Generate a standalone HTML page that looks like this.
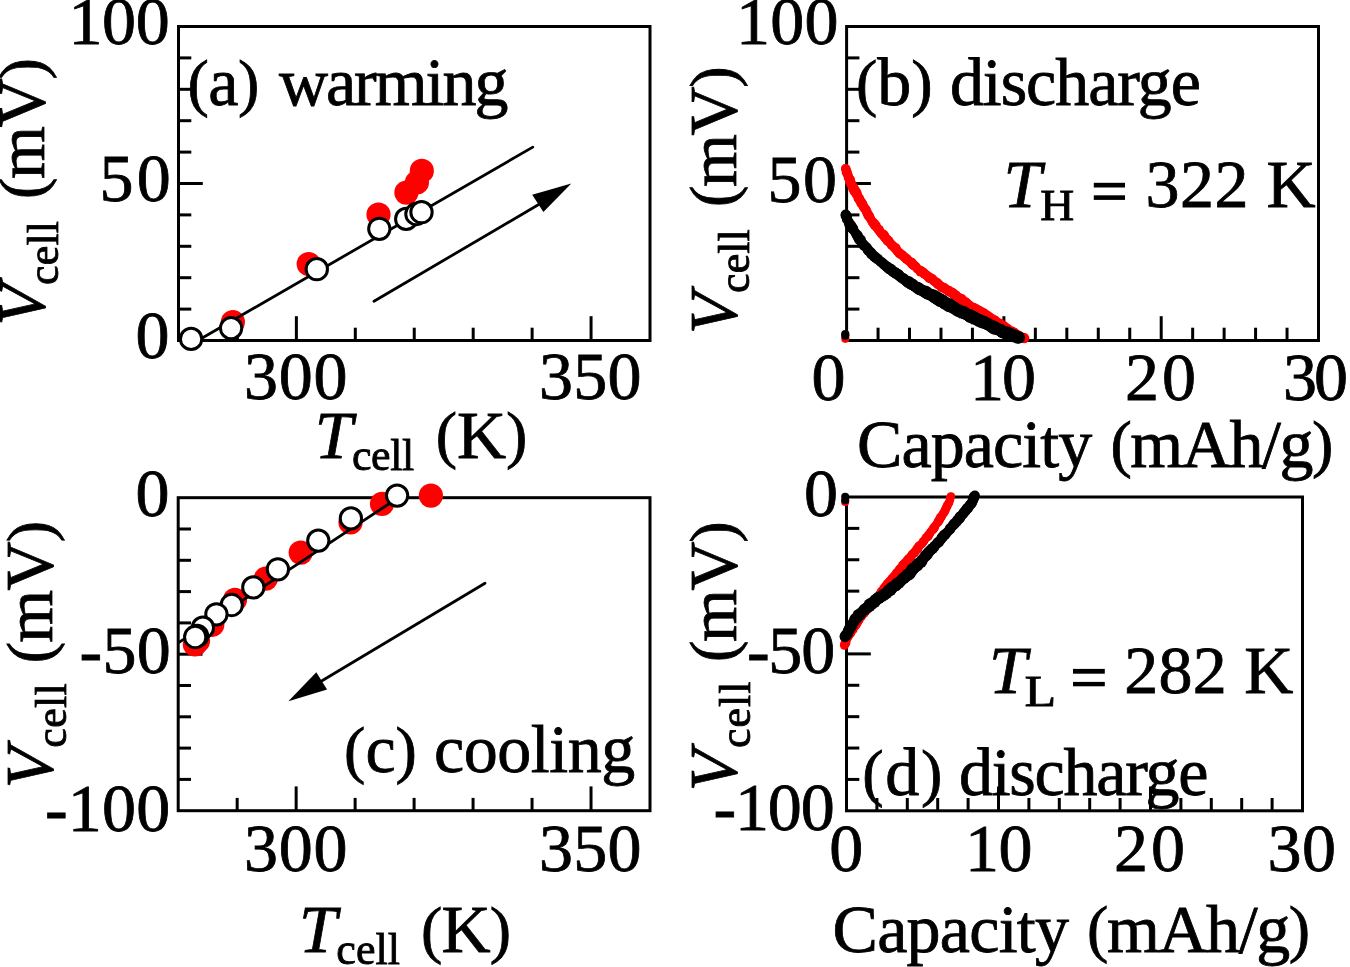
<!DOCTYPE html>
<html><head><meta charset="utf-8"><style>
html,body{margin:0;padding:0;background:#fff;width:1350px;height:967px;overflow:hidden}
svg{display:block;will-change:transform;font-family:"Liberation Serif",serif;font-size:68px}
text{stroke:#000;stroke-width:0.8px}
</style></head><body>
<svg width="1350" height="967" viewBox="0 0 1350 967" fill="#000">
<line x1="178.5" y1="57.90" x2="191.30" y2="57.90" stroke="#000" stroke-width="3"/>
<line x1="178.5" y1="89.30" x2="191.30" y2="89.30" stroke="#000" stroke-width="3"/>
<line x1="178.5" y1="120.70" x2="191.30" y2="120.70" stroke="#000" stroke-width="3"/>
<line x1="178.5" y1="152.10" x2="191.30" y2="152.10" stroke="#000" stroke-width="3"/>
<line x1="178.5" y1="183.50" x2="202.80" y2="183.50" stroke="#000" stroke-width="3"/>
<line x1="178.5" y1="214.90" x2="191.30" y2="214.90" stroke="#000" stroke-width="3"/>
<line x1="178.5" y1="246.30" x2="191.30" y2="246.30" stroke="#000" stroke-width="3"/>
<line x1="178.5" y1="277.70" x2="191.30" y2="277.70" stroke="#000" stroke-width="3"/>
<line x1="178.5" y1="309.10" x2="191.30" y2="309.10" stroke="#000" stroke-width="3"/>
<line x1="237.44" y1="340.5" x2="237.44" y2="327.70" stroke="#000" stroke-width="3"/>
<line x1="296.38" y1="340.5" x2="296.38" y2="316.20" stroke="#000" stroke-width="3"/>
<line x1="355.31" y1="340.5" x2="355.31" y2="327.70" stroke="#000" stroke-width="3"/>
<line x1="414.25" y1="340.5" x2="414.25" y2="327.70" stroke="#000" stroke-width="3"/>
<line x1="473.19" y1="340.5" x2="473.19" y2="327.70" stroke="#000" stroke-width="3"/>
<line x1="532.12" y1="340.5" x2="532.12" y2="327.70" stroke="#000" stroke-width="3"/>
<line x1="591.06" y1="340.5" x2="591.06" y2="316.20" stroke="#000" stroke-width="3"/>
<rect x="178.5" y="26.5" width="471.5" height="314.0" fill="none" stroke="#000" stroke-width="3"/>
<line x1="846.6" y1="57.90" x2="859.40" y2="57.90" stroke="#000" stroke-width="3"/>
<line x1="846.6" y1="89.30" x2="859.40" y2="89.30" stroke="#000" stroke-width="3"/>
<line x1="846.6" y1="120.70" x2="859.40" y2="120.70" stroke="#000" stroke-width="3"/>
<line x1="846.6" y1="152.10" x2="859.40" y2="152.10" stroke="#000" stroke-width="3"/>
<line x1="846.6" y1="183.50" x2="870.90" y2="183.50" stroke="#000" stroke-width="3"/>
<line x1="846.6" y1="214.90" x2="859.40" y2="214.90" stroke="#000" stroke-width="3"/>
<line x1="846.6" y1="246.30" x2="859.40" y2="246.30" stroke="#000" stroke-width="3"/>
<line x1="846.6" y1="277.70" x2="859.40" y2="277.70" stroke="#000" stroke-width="3"/>
<line x1="846.6" y1="309.10" x2="859.40" y2="309.10" stroke="#000" stroke-width="3"/>
<line x1="878.06" y1="340.5" x2="878.06" y2="327.70" stroke="#000" stroke-width="3"/>
<line x1="909.52" y1="340.5" x2="909.52" y2="327.70" stroke="#000" stroke-width="3"/>
<line x1="940.98" y1="340.5" x2="940.98" y2="327.70" stroke="#000" stroke-width="3"/>
<line x1="972.44" y1="340.5" x2="972.44" y2="327.70" stroke="#000" stroke-width="3"/>
<line x1="1003.90" y1="340.5" x2="1003.90" y2="316.20" stroke="#000" stroke-width="3"/>
<line x1="1035.36" y1="340.5" x2="1035.36" y2="327.70" stroke="#000" stroke-width="3"/>
<line x1="1066.82" y1="340.5" x2="1066.82" y2="327.70" stroke="#000" stroke-width="3"/>
<line x1="1098.28" y1="340.5" x2="1098.28" y2="327.70" stroke="#000" stroke-width="3"/>
<line x1="1129.74" y1="340.5" x2="1129.74" y2="327.70" stroke="#000" stroke-width="3"/>
<line x1="1161.20" y1="340.5" x2="1161.20" y2="316.20" stroke="#000" stroke-width="3"/>
<line x1="1192.66" y1="340.5" x2="1192.66" y2="327.70" stroke="#000" stroke-width="3"/>
<line x1="1224.12" y1="340.5" x2="1224.12" y2="327.70" stroke="#000" stroke-width="3"/>
<line x1="1255.58" y1="340.5" x2="1255.58" y2="327.70" stroke="#000" stroke-width="3"/>
<line x1="1287.04" y1="340.5" x2="1287.04" y2="327.70" stroke="#000" stroke-width="3"/>
<rect x="846.6" y="26.5" width="471.9" height="314.0" fill="none" stroke="#000" stroke-width="3"/>
<line x1="178.2" y1="529.00" x2="191.00" y2="529.00" stroke="#000" stroke-width="3"/>
<line x1="178.2" y1="560.30" x2="191.00" y2="560.30" stroke="#000" stroke-width="3"/>
<line x1="178.2" y1="591.60" x2="191.00" y2="591.60" stroke="#000" stroke-width="3"/>
<line x1="178.2" y1="622.90" x2="191.00" y2="622.90" stroke="#000" stroke-width="3"/>
<line x1="178.2" y1="654.20" x2="202.50" y2="654.20" stroke="#000" stroke-width="3"/>
<line x1="178.2" y1="685.50" x2="191.00" y2="685.50" stroke="#000" stroke-width="3"/>
<line x1="178.2" y1="716.80" x2="191.00" y2="716.80" stroke="#000" stroke-width="3"/>
<line x1="178.2" y1="748.10" x2="191.00" y2="748.10" stroke="#000" stroke-width="3"/>
<line x1="178.2" y1="779.40" x2="191.00" y2="779.40" stroke="#000" stroke-width="3"/>
<line x1="237.17" y1="810.7" x2="237.17" y2="797.90" stroke="#000" stroke-width="3"/>
<line x1="296.15" y1="810.7" x2="296.15" y2="786.40" stroke="#000" stroke-width="3"/>
<line x1="355.12" y1="810.7" x2="355.12" y2="797.90" stroke="#000" stroke-width="3"/>
<line x1="414.10" y1="810.7" x2="414.10" y2="797.90" stroke="#000" stroke-width="3"/>
<line x1="473.07" y1="810.7" x2="473.07" y2="797.90" stroke="#000" stroke-width="3"/>
<line x1="532.05" y1="810.7" x2="532.05" y2="797.90" stroke="#000" stroke-width="3"/>
<line x1="591.02" y1="810.7" x2="591.02" y2="786.40" stroke="#000" stroke-width="3"/>
<rect x="178.2" y="497.7" width="471.8" height="313.00000000000006" fill="none" stroke="#000" stroke-width="3"/>
<line x1="846.5" y1="528.38" x2="859.30" y2="528.38" stroke="#000" stroke-width="3"/>
<line x1="846.5" y1="559.76" x2="859.30" y2="559.76" stroke="#000" stroke-width="3"/>
<line x1="846.5" y1="591.14" x2="859.30" y2="591.14" stroke="#000" stroke-width="3"/>
<line x1="846.5" y1="622.52" x2="859.30" y2="622.52" stroke="#000" stroke-width="3"/>
<line x1="846.5" y1="653.90" x2="870.80" y2="653.90" stroke="#000" stroke-width="3"/>
<line x1="846.5" y1="685.28" x2="859.30" y2="685.28" stroke="#000" stroke-width="3"/>
<line x1="846.5" y1="716.66" x2="859.30" y2="716.66" stroke="#000" stroke-width="3"/>
<line x1="846.5" y1="748.04" x2="859.30" y2="748.04" stroke="#000" stroke-width="3"/>
<line x1="846.5" y1="779.42" x2="859.30" y2="779.42" stroke="#000" stroke-width="3"/>
<line x1="876.90" y1="810.8" x2="876.90" y2="798.00" stroke="#000" stroke-width="3"/>
<line x1="907.30" y1="810.8" x2="907.30" y2="798.00" stroke="#000" stroke-width="3"/>
<line x1="937.70" y1="810.8" x2="937.70" y2="798.00" stroke="#000" stroke-width="3"/>
<line x1="968.10" y1="810.8" x2="968.10" y2="798.00" stroke="#000" stroke-width="3"/>
<line x1="998.50" y1="810.8" x2="998.50" y2="786.50" stroke="#000" stroke-width="3"/>
<line x1="1028.90" y1="810.8" x2="1028.90" y2="798.00" stroke="#000" stroke-width="3"/>
<line x1="1059.30" y1="810.8" x2="1059.30" y2="798.00" stroke="#000" stroke-width="3"/>
<line x1="1089.70" y1="810.8" x2="1089.70" y2="798.00" stroke="#000" stroke-width="3"/>
<line x1="1120.10" y1="810.8" x2="1120.10" y2="798.00" stroke="#000" stroke-width="3"/>
<line x1="1150.50" y1="810.8" x2="1150.50" y2="786.50" stroke="#000" stroke-width="3"/>
<line x1="1180.90" y1="810.8" x2="1180.90" y2="798.00" stroke="#000" stroke-width="3"/>
<line x1="1211.30" y1="810.8" x2="1211.30" y2="798.00" stroke="#000" stroke-width="3"/>
<line x1="1241.70" y1="810.8" x2="1241.70" y2="798.00" stroke="#000" stroke-width="3"/>
<line x1="1272.10" y1="810.8" x2="1272.10" y2="798.00" stroke="#000" stroke-width="3"/>
<rect x="846.5" y="497" width="456.0" height="313.79999999999995" fill="none" stroke="#000" stroke-width="3"/>
<circle cx="232.9" cy="322.1" r="12.1" fill="#f00"/>
<circle cx="308.7" cy="264" r="12.1" fill="#f00"/>
<circle cx="378.5" cy="214.5" r="12.1" fill="#f00"/>
<circle cx="406.4" cy="192.6" r="12.1" fill="#f00"/>
<circle cx="416.9" cy="182.5" r="12.1" fill="#f00"/>
<circle cx="421.8" cy="170.9" r="12.1" fill="#f00"/>
<polyline points="191,344.5 532.8,147.1" fill="none" stroke="#000" stroke-width="2.8" stroke-linecap="round" stroke-linejoin="round"/>
<circle cx="191.1" cy="338.9" r="10.65" fill="#fff" stroke="#000" stroke-width="3.0"/>
<circle cx="231.1" cy="328.1" r="10.65" fill="#fff" stroke="#000" stroke-width="3.0"/>
<circle cx="316.8" cy="269.2" r="10.65" fill="#fff" stroke="#000" stroke-width="3.0"/>
<circle cx="379.3" cy="228.8" r="10.65" fill="#fff" stroke="#000" stroke-width="3.0"/>
<circle cx="406.2" cy="218.9" r="10.65" fill="#fff" stroke="#000" stroke-width="3.0"/>
<circle cx="416.4" cy="214" r="10.65" fill="#fff" stroke="#000" stroke-width="3.0"/>
<circle cx="421.5" cy="212.2" r="10.65" fill="#fff" stroke="#000" stroke-width="3.0"/>
<polyline points="374,301.3 538.7,204.5" fill="none" stroke="#000" stroke-width="2.8" stroke-linecap="round" stroke-linejoin="round"/>
<polygon points="571.3,183.6 532.2,194.8 543.4,211.9" fill="#000"/>
<circle cx="845.3" cy="338.8" r="4.1" fill="#f00"/>
<circle cx="845.3" cy="334" r="4.1" fill="#000"/><circle cx="845.3" cy="335.7" r="4.1" fill="#000"/>
<g fill="#f00"><circle cx="845.5" cy="168.6" r="4.51"/><circle cx="845.8" cy="169.0" r="4.84"/><circle cx="846.3" cy="170.0" r="4.31"/><circle cx="846.8" cy="171.2" r="4.51"/><circle cx="846.8" cy="172.5" r="5.05"/><circle cx="847.3" cy="173.9" r="4.44"/><circle cx="847.9" cy="175.0" r="4.77"/><circle cx="848.4" cy="176.2" r="4.36"/><circle cx="848.3" cy="177.7" r="4.57"/><circle cx="849.3" cy="178.8" r="4.73"/><circle cx="849.9" cy="179.4" r="4.94"/><circle cx="850.0" cy="181.0" r="5.02"/><circle cx="850.1" cy="181.5" r="5.09"/><circle cx="851.4" cy="182.9" r="4.50"/><circle cx="851.3" cy="184.2" r="4.86"/><circle cx="851.9" cy="185.4" r="4.65"/><circle cx="852.9" cy="186.7" r="4.83"/><circle cx="853.4" cy="188.2" r="5.14"/><circle cx="853.4" cy="189.2" r="4.90"/><circle cx="854.6" cy="190.0" r="5.17"/><circle cx="854.5" cy="191.3" r="4.94"/><circle cx="855.2" cy="191.7" r="4.82"/><circle cx="856.4" cy="192.7" r="5.07"/><circle cx="856.5" cy="193.9" r="5.02"/><circle cx="857.5" cy="195.6" r="4.56"/><circle cx="857.9" cy="195.9" r="4.34"/><circle cx="858.3" cy="197.7" r="4.95"/><circle cx="859.1" cy="198.8" r="5.18"/><circle cx="859.3" cy="199.5" r="4.58"/><circle cx="860.0" cy="200.4" r="4.33"/><circle cx="860.6" cy="201.1" r="4.85"/><circle cx="861.3" cy="203.0" r="5.08"/><circle cx="862.0" cy="203.6" r="5.11"/><circle cx="862.8" cy="204.8" r="4.77"/><circle cx="863.3" cy="206.2" r="4.80"/><circle cx="863.7" cy="207.0" r="4.76"/><circle cx="864.2" cy="208.3" r="4.51"/><circle cx="865.0" cy="208.5" r="4.77"/><circle cx="865.6" cy="209.6" r="4.67"/><circle cx="866.3" cy="210.6" r="4.85"/><circle cx="866.8" cy="212.3" r="4.86"/><circle cx="867.6" cy="213.4" r="4.62"/><circle cx="867.7" cy="214.4" r="4.32"/><circle cx="868.5" cy="215.3" r="5.17"/><circle cx="869.2" cy="216.3" r="4.83"/><circle cx="869.9" cy="217.5" r="4.58"/><circle cx="870.5" cy="218.8" r="4.57"/><circle cx="871.4" cy="219.8" r="4.32"/><circle cx="871.7" cy="220.9" r="4.58"/><circle cx="872.4" cy="221.6" r="4.51"/><circle cx="873.0" cy="222.5" r="4.93"/><circle cx="874.3" cy="223.6" r="4.60"/><circle cx="874.5" cy="224.6" r="5.07"/><circle cx="875.9" cy="225.8" r="4.89"/><circle cx="876.0" cy="226.9" r="4.50"/><circle cx="877.4" cy="228.2" r="4.47"/><circle cx="877.7" cy="229.1" r="4.47"/><circle cx="879.0" cy="229.7" r="4.88"/><circle cx="879.3" cy="231.1" r="4.42"/><circle cx="880.2" cy="231.7" r="4.54"/><circle cx="881.1" cy="233.2" r="4.68"/><circle cx="881.6" cy="234.2" r="4.44"/><circle cx="883.2" cy="234.7" r="5.09"/><circle cx="883.9" cy="235.4" r="5.16"/><circle cx="884.6" cy="236.7" r="4.97"/><circle cx="884.9" cy="237.3" r="4.77"/><circle cx="885.4" cy="238.5" r="4.50"/><circle cx="886.9" cy="238.9" r="4.56"/><circle cx="887.6" cy="240.6" r="5.11"/><circle cx="888.6" cy="241.2" r="5.11"/><circle cx="889.2" cy="241.8" r="4.31"/><circle cx="890.0" cy="243.0" r="4.57"/><circle cx="891.1" cy="244.0" r="4.67"/><circle cx="891.3" cy="245.1" r="4.61"/><circle cx="892.6" cy="245.5" r="4.73"/><circle cx="893.2" cy="246.8" r="4.48"/><circle cx="894.2" cy="247.7" r="4.45"/><circle cx="895.1" cy="247.8" r="5.03"/><circle cx="896.0" cy="248.7" r="4.87"/><circle cx="896.3" cy="250.0" r="4.54"/><circle cx="897.4" cy="251.1" r="4.68"/><circle cx="897.8" cy="251.3" r="4.30"/><circle cx="898.7" cy="252.9" r="4.41"/><circle cx="899.6" cy="253.3" r="5.07"/><circle cx="900.6" cy="254.0" r="4.58"/><circle cx="901.8" cy="254.8" r="4.88"/><circle cx="902.5" cy="255.4" r="4.47"/><circle cx="903.7" cy="256.5" r="4.80"/><circle cx="904.2" cy="257.2" r="4.37"/><circle cx="905.6" cy="258.0" r="4.84"/><circle cx="906.4" cy="258.8" r="5.02"/><circle cx="907.2" cy="259.8" r="4.64"/><circle cx="908.3" cy="260.4" r="4.68"/><circle cx="909.1" cy="261.3" r="4.52"/><circle cx="909.9" cy="261.9" r="4.36"/><circle cx="911.3" cy="262.6" r="5.09"/><circle cx="912.1" cy="263.3" r="5.11"/><circle cx="912.4" cy="264.6" r="4.72"/><circle cx="914.0" cy="265.4" r="4.90"/><circle cx="914.8" cy="266.0" r="4.90"/><circle cx="915.6" cy="266.3" r="4.39"/><circle cx="916.6" cy="267.1" r="4.43"/><circle cx="917.0" cy="268.7" r="4.38"/><circle cx="917.8" cy="269.4" r="4.46"/><circle cx="919.5" cy="270.1" r="4.41"/><circle cx="920.5" cy="270.7" r="5.05"/><circle cx="920.6" cy="271.6" r="5.02"/><circle cx="922.2" cy="271.8" r="4.76"/><circle cx="923.4" cy="272.6" r="4.97"/><circle cx="924.2" cy="274.0" r="4.59"/><circle cx="924.9" cy="274.2" r="4.52"/><circle cx="926.4" cy="275.1" r="4.85"/><circle cx="927.1" cy="275.7" r="4.63"/><circle cx="927.9" cy="276.6" r="4.68"/><circle cx="929.2" cy="277.5" r="5.18"/><circle cx="930.4" cy="278.2" r="4.44"/><circle cx="931.2" cy="278.7" r="4.91"/><circle cx="932.6" cy="279.2" r="4.88"/><circle cx="933.4" cy="280.6" r="4.39"/><circle cx="934.1" cy="281.2" r="4.77"/><circle cx="934.8" cy="281.4" r="4.47"/><circle cx="935.8" cy="282.2" r="4.83"/><circle cx="937.3" cy="283.0" r="4.92"/><circle cx="937.8" cy="284.3" r="4.93"/><circle cx="938.7" cy="284.5" r="4.83"/><circle cx="940.0" cy="285.4" r="4.32"/><circle cx="940.8" cy="286.0" r="4.46"/><circle cx="941.6" cy="287.2" r="5.00"/><circle cx="943.0" cy="287.3" r="4.73"/><circle cx="944.2" cy="288.0" r="5.05"/><circle cx="945.1" cy="288.9" r="4.73"/><circle cx="946.2" cy="289.6" r="4.66"/><circle cx="946.8" cy="289.7" r="4.72"/><circle cx="948.4" cy="291.0" r="4.95"/><circle cx="949.2" cy="291.1" r="5.07"/><circle cx="950.4" cy="292.3" r="4.53"/><circle cx="952.4" cy="292.8" r="5.07"/><circle cx="952.7" cy="293.5" r="5.08"/><circle cx="953.5" cy="293.9" r="4.96"/><circle cx="954.6" cy="294.8" r="5.05"/><circle cx="956.0" cy="295.2" r="4.82"/><circle cx="956.8" cy="296.4" r="4.60"/><circle cx="958.1" cy="297.5" r="4.49"/><circle cx="959.1" cy="297.6" r="4.65"/><circle cx="960.3" cy="298.3" r="4.55"/><circle cx="961.6" cy="299.1" r="5.10"/><circle cx="962.3" cy="300.5" r="5.15"/><circle cx="963.3" cy="301.2" r="4.98"/><circle cx="964.9" cy="301.6" r="4.89"/><circle cx="966.1" cy="302.7" r="4.98"/><circle cx="966.3" cy="303.2" r="4.78"/><circle cx="967.9" cy="304.1" r="4.62"/><circle cx="968.4" cy="304.7" r="4.81"/><circle cx="969.3" cy="305.6" r="4.87"/><circle cx="970.5" cy="306.4" r="4.89"/><circle cx="971.9" cy="306.9" r="4.43"/><circle cx="973.2" cy="307.5" r="4.84"/><circle cx="974.0" cy="307.7" r="4.71"/><circle cx="975.4" cy="308.8" r="4.36"/><circle cx="976.4" cy="309.0" r="4.79"/><circle cx="977.1" cy="310.0" r="4.54"/><circle cx="978.2" cy="310.1" r="4.34"/><circle cx="979.2" cy="310.7" r="4.99"/><circle cx="980.4" cy="311.8" r="4.66"/><circle cx="981.9" cy="311.9" r="4.62"/><circle cx="982.4" cy="312.7" r="4.54"/><circle cx="983.9" cy="313.3" r="5.00"/><circle cx="984.6" cy="314.4" r="4.47"/><circle cx="985.9" cy="314.9" r="5.03"/><circle cx="986.6" cy="315.2" r="4.43"/><circle cx="987.8" cy="315.9" r="4.77"/><circle cx="989.1" cy="316.5" r="4.53"/><circle cx="990.2" cy="318.0" r="5.02"/><circle cx="991.0" cy="318.4" r="4.64"/><circle cx="992.5" cy="319.2" r="4.87"/><circle cx="993.5" cy="319.7" r="4.57"/><circle cx="994.4" cy="320.0" r="4.84"/><circle cx="995.5" cy="321.2" r="4.99"/><circle cx="996.3" cy="321.6" r="4.77"/><circle cx="997.0" cy="322.6" r="4.78"/><circle cx="998.4" cy="323.3" r="4.88"/><circle cx="999.8" cy="323.6" r="5.16"/><circle cx="1000.5" cy="324.1" r="5.01"/><circle cx="1001.3" cy="324.8" r="4.62"/><circle cx="1003.1" cy="325.8" r="4.78"/><circle cx="1004.0" cy="326.3" r="5.08"/><circle cx="1005.0" cy="327.8" r="5.07"/><circle cx="1006.3" cy="327.9" r="4.94"/><circle cx="1007.5" cy="329.1" r="5.03"/><circle cx="1008.4" cy="329.4" r="4.69"/><circle cx="1008.8" cy="329.7" r="4.40"/><circle cx="1010.0" cy="330.7" r="4.48"/><circle cx="1011.3" cy="331.2" r="4.93"/><circle cx="1012.1" cy="331.8" r="4.88"/><circle cx="1013.1" cy="332.2" r="4.98"/><circle cx="1014.3" cy="332.9" r="5.11"/><circle cx="1015.0" cy="333.6" r="4.63"/><circle cx="1015.9" cy="334.0" r="4.50"/><circle cx="1017.3" cy="334.9" r="5.00"/><circle cx="1018.6" cy="335.4" r="4.48"/><circle cx="1019.8" cy="335.8" r="4.66"/><circle cx="1020.9" cy="336.8" r="4.40"/><circle cx="1021.8" cy="337.3" r="4.35"/><circle cx="1023.3" cy="337.4" r="4.67"/><circle cx="1023.8" cy="337.8" r="4.66"/><circle cx="1024.2" cy="338.1" r="5.17"/></g>
<g fill="#000"><circle cx="845.7" cy="214.6" r="5.11"/><circle cx="846.0" cy="215.4" r="5.40"/><circle cx="846.1" cy="216.4" r="4.58"/><circle cx="846.9" cy="216.8" r="5.13"/><circle cx="846.8" cy="218.4" r="4.97"/><circle cx="847.1" cy="219.5" r="5.07"/><circle cx="848.5" cy="221.3" r="4.80"/><circle cx="849.0" cy="222.1" r="4.69"/><circle cx="849.1" cy="223.3" r="5.11"/><circle cx="849.7" cy="224.4" r="5.33"/><circle cx="850.9" cy="225.5" r="5.43"/><circle cx="851.2" cy="226.8" r="5.42"/><circle cx="852.2" cy="227.9" r="4.73"/><circle cx="852.8" cy="228.5" r="5.42"/><circle cx="852.8" cy="229.4" r="4.88"/><circle cx="853.6" cy="230.8" r="4.61"/><circle cx="854.7" cy="231.6" r="4.55"/><circle cx="855.5" cy="232.8" r="4.83"/><circle cx="855.9" cy="234.0" r="4.83"/><circle cx="857.0" cy="234.4" r="4.60"/><circle cx="857.6" cy="235.4" r="5.22"/><circle cx="857.9" cy="236.9" r="5.26"/><circle cx="858.3" cy="237.5" r="4.56"/><circle cx="859.1" cy="239.1" r="5.41"/><circle cx="860.5" cy="239.7" r="5.39"/><circle cx="860.9" cy="241.1" r="4.87"/><circle cx="861.9" cy="242.1" r="4.65"/><circle cx="862.0" cy="243.3" r="5.32"/><circle cx="863.1" cy="244.0" r="4.63"/><circle cx="863.8" cy="245.2" r="5.38"/><circle cx="864.5" cy="245.6" r="5.04"/><circle cx="865.0" cy="246.4" r="4.71"/><circle cx="866.6" cy="247.4" r="5.17"/><circle cx="867.4" cy="248.6" r="4.59"/><circle cx="867.5" cy="249.7" r="4.92"/><circle cx="868.5" cy="250.4" r="5.29"/><circle cx="869.7" cy="251.0" r="4.60"/><circle cx="870.4" cy="252.0" r="4.99"/><circle cx="871.4" cy="253.3" r="5.21"/><circle cx="871.4" cy="254.0" r="5.26"/><circle cx="873.0" cy="254.8" r="4.68"/><circle cx="874.0" cy="256.1" r="4.96"/><circle cx="874.4" cy="256.5" r="5.43"/><circle cx="875.3" cy="257.2" r="5.21"/><circle cx="875.9" cy="258.0" r="4.91"/><circle cx="877.6" cy="259.0" r="5.44"/><circle cx="878.0" cy="259.3" r="5.00"/><circle cx="879.3" cy="260.7" r="4.80"/><circle cx="880.3" cy="261.4" r="4.88"/><circle cx="881.2" cy="262.2" r="5.18"/><circle cx="882.2" cy="262.5" r="4.88"/><circle cx="883.2" cy="263.6" r="5.01"/><circle cx="884.2" cy="264.3" r="4.86"/><circle cx="884.3" cy="264.9" r="5.14"/><circle cx="885.9" cy="265.6" r="4.86"/><circle cx="886.8" cy="266.6" r="5.39"/><circle cx="887.8" cy="267.3" r="4.99"/><circle cx="888.5" cy="268.1" r="5.44"/><circle cx="889.8" cy="268.9" r="5.50"/><circle cx="890.6" cy="269.2" r="5.60"/><circle cx="891.9" cy="270.3" r="4.91"/><circle cx="892.7" cy="270.9" r="5.21"/><circle cx="893.2" cy="271.7" r="5.46"/><circle cx="894.6" cy="272.1" r="5.34"/><circle cx="895.7" cy="273.0" r="5.40"/><circle cx="896.0" cy="273.3" r="5.51"/><circle cx="897.5" cy="274.1" r="5.28"/><circle cx="898.4" cy="274.7" r="5.52"/><circle cx="899.0" cy="275.4" r="5.35"/><circle cx="900.1" cy="276.3" r="5.07"/><circle cx="900.8" cy="277.3" r="5.14"/><circle cx="902.3" cy="278.1" r="5.33"/><circle cx="903.5" cy="278.3" r="5.22"/><circle cx="903.9" cy="279.3" r="5.39"/><circle cx="905.4" cy="280.0" r="5.15"/><circle cx="906.3" cy="280.5" r="5.11"/><circle cx="907.1" cy="281.6" r="5.59"/><circle cx="908.6" cy="282.1" r="5.98"/><circle cx="909.4" cy="282.8" r="5.87"/><circle cx="910.5" cy="283.6" r="5.29"/><circle cx="911.8" cy="284.3" r="6.05"/><circle cx="912.8" cy="284.4" r="5.53"/><circle cx="913.6" cy="285.6" r="5.33"/><circle cx="914.7" cy="286.5" r="5.38"/><circle cx="915.6" cy="286.5" r="5.62"/><circle cx="917.1" cy="287.3" r="5.56"/><circle cx="918.1" cy="288.1" r="6.19"/><circle cx="919.3" cy="288.6" r="5.58"/><circle cx="919.7" cy="289.6" r="5.74"/><circle cx="920.8" cy="289.7" r="5.83"/><circle cx="922.2" cy="290.3" r="5.52"/><circle cx="923.4" cy="291.2" r="5.70"/><circle cx="924.2" cy="291.2" r="5.47"/><circle cx="925.5" cy="291.8" r="6.32"/><circle cx="926.0" cy="293.0" r="5.75"/><circle cx="927.4" cy="293.0" r="5.79"/><circle cx="928.4" cy="293.8" r="6.13"/><circle cx="929.7" cy="294.1" r="5.68"/><circle cx="930.5" cy="294.7" r="6.09"/><circle cx="931.8" cy="295.3" r="6.11"/><circle cx="933.0" cy="295.6" r="6.33"/><circle cx="934.0" cy="297.0" r="5.92"/><circle cx="935.2" cy="296.8" r="6.52"/><circle cx="936.2" cy="297.9" r="6.44"/><circle cx="937.4" cy="298.4" r="6.41"/><circle cx="938.3" cy="298.9" r="6.62"/><circle cx="939.1" cy="299.4" r="6.57"/><circle cx="940.0" cy="300.4" r="6.55"/><circle cx="941.2" cy="300.5" r="6.43"/><circle cx="942.5" cy="300.9" r="6.50"/><circle cx="943.0" cy="301.8" r="6.23"/><circle cx="943.6" cy="302.5" r="6.10"/><circle cx="944.6" cy="302.8" r="6.53"/><circle cx="946.5" cy="303.9" r="6.54"/><circle cx="947.8" cy="304.9" r="5.82"/><circle cx="948.7" cy="304.6" r="6.70"/><circle cx="949.1" cy="305.6" r="6.56"/><circle cx="950.6" cy="305.7" r="6.66"/><circle cx="951.8" cy="306.2" r="6.06"/><circle cx="952.4" cy="306.8" r="6.35"/><circle cx="953.2" cy="307.3" r="6.36"/><circle cx="954.3" cy="307.9" r="6.14"/><circle cx="956.1" cy="309.2" r="6.32"/><circle cx="957.0" cy="309.3" r="5.92"/><circle cx="958.2" cy="310.5" r="6.34"/><circle cx="959.0" cy="310.9" r="6.14"/><circle cx="960.7" cy="311.3" r="5.94"/><circle cx="961.8" cy="312.0" r="6.62"/><circle cx="963.0" cy="312.3" r="6.04"/><circle cx="964.1" cy="312.7" r="6.48"/><circle cx="965.1" cy="313.8" r="6.01"/><circle cx="966.5" cy="314.3" r="5.96"/><circle cx="967.6" cy="314.3" r="5.88"/><circle cx="968.6" cy="315.0" r="5.91"/><circle cx="969.6" cy="315.6" r="6.59"/><circle cx="970.3" cy="316.5" r="6.52"/><circle cx="971.5" cy="317.2" r="5.85"/><circle cx="972.7" cy="317.0" r="6.41"/><circle cx="974.1" cy="318.1" r="6.68"/><circle cx="975.2" cy="318.2" r="5.93"/><circle cx="976.0" cy="319.0" r="6.01"/><circle cx="977.2" cy="319.1" r="6.11"/><circle cx="978.5" cy="320.2" r="6.55"/><circle cx="979.8" cy="320.4" r="6.19"/><circle cx="980.7" cy="321.2" r="6.33"/><circle cx="981.3" cy="321.1" r="6.16"/><circle cx="982.4" cy="322.4" r="5.98"/><circle cx="984.1" cy="322.1" r="6.23"/><circle cx="985.3" cy="323.2" r="6.22"/><circle cx="986.1" cy="323.2" r="6.19"/><circle cx="986.9" cy="324.0" r="5.94"/><circle cx="988.6" cy="324.4" r="6.15"/><circle cx="989.2" cy="324.9" r="6.03"/><circle cx="990.2" cy="325.8" r="6.06"/><circle cx="991.9" cy="326.2" r="5.83"/><circle cx="992.8" cy="327.0" r="6.64"/><circle cx="994.1" cy="327.1" r="6.22"/><circle cx="994.6" cy="328.1" r="6.40"/><circle cx="995.6" cy="328.2" r="6.46"/><circle cx="996.8" cy="328.6" r="5.82"/><circle cx="998.6" cy="329.4" r="6.16"/><circle cx="999.2" cy="329.8" r="6.08"/><circle cx="1000.6" cy="330.2" r="6.46"/><circle cx="1001.7" cy="331.4" r="6.00"/><circle cx="1002.7" cy="331.9" r="6.35"/><circle cx="1003.7" cy="332.3" r="5.76"/><circle cx="1005.0" cy="332.6" r="6.11"/><circle cx="1006.8" cy="332.9" r="6.61"/><circle cx="1007.7" cy="333.9" r="5.79"/><circle cx="1009.9" cy="333.6" r="6.13"/><circle cx="1010.4" cy="334.4" r="5.89"/><circle cx="1011.9" cy="334.9" r="5.71"/><circle cx="1012.9" cy="335.0" r="5.92"/><circle cx="1014.2" cy="335.9" r="6.50"/><circle cx="1015.7" cy="335.9" r="5.97"/><circle cx="1016.3" cy="336.7" r="5.88"/><circle cx="1017.6" cy="337.3" r="6.41"/><circle cx="1017.9" cy="337.3" r="5.76"/><circle cx="1019.1" cy="337.4" r="5.99"/></g>
<circle cx="430.9" cy="495.6" r="12.1" fill="#f00"/>
<circle cx="382" cy="503.9" r="12.1" fill="#f00"/>
<circle cx="350.5" cy="522.5" r="12.1" fill="#f00"/>
<circle cx="300.7" cy="552.6" r="12.1" fill="#f00"/>
<circle cx="265.8" cy="578.6" r="12.1" fill="#f00"/>
<circle cx="235" cy="599.8" r="12.1" fill="#f00"/>
<circle cx="212.3" cy="624.8" r="12.1" fill="#f00"/>
<circle cx="198" cy="641" r="12.1" fill="#f00"/>
<circle cx="194.9" cy="644.4" r="12.1" fill="#f00"/>
<polyline points="178.6,642.7 397,498.5" fill="none" stroke="#000" stroke-width="2.8" stroke-linecap="round" stroke-linejoin="round"/>
<circle cx="397.1" cy="495.6" r="10.65" fill="#fff" stroke="#000" stroke-width="3.0"/>
<circle cx="350.9" cy="518.4" r="10.65" fill="#fff" stroke="#000" stroke-width="3.0"/>
<circle cx="318.3" cy="540.6" r="10.65" fill="#fff" stroke="#000" stroke-width="3.0"/>
<circle cx="277.9" cy="569.3" r="10.65" fill="#fff" stroke="#000" stroke-width="3.0"/>
<circle cx="253.3" cy="587.4" r="10.65" fill="#fff" stroke="#000" stroke-width="3.0"/>
<circle cx="231.7" cy="605" r="10.65" fill="#fff" stroke="#000" stroke-width="3.0"/>
<circle cx="216.4" cy="614.3" r="10.65" fill="#fff" stroke="#000" stroke-width="3.0"/>
<circle cx="202.9" cy="627.7" r="10.65" fill="#fff" stroke="#000" stroke-width="3.0"/>
<circle cx="197.2" cy="636" r="10.65" fill="#fff" stroke="#000" stroke-width="3.0"/>
<circle cx="195.2" cy="637" r="10.65" fill="#fff" stroke="#000" stroke-width="3.0"/>
<polyline points="485,583.3 322,680.7" fill="none" stroke="#000" stroke-width="2.8" stroke-linecap="round" stroke-linejoin="round"/>
<polygon points="288.4,701.2 316.3,672.2 327.1,689.6" fill="#000"/>
<circle cx="845.2" cy="501.9" r="4.1" fill="#f00"/>
<circle cx="845.2" cy="496.8" r="4" fill="#000"/><circle cx="845.2" cy="500.2" r="4" fill="#000"/>
<g fill="#f00"><circle cx="950.9" cy="496.3" r="4.09"/><circle cx="951.0" cy="496.7" r="3.87"/><circle cx="950.6" cy="497.4" r="3.85"/><circle cx="949.9" cy="498.5" r="4.19"/><circle cx="950.1" cy="499.7" r="4.18"/><circle cx="949.5" cy="501.7" r="4.00"/><circle cx="948.8" cy="502.9" r="4.32"/><circle cx="948.7" cy="503.4" r="3.84"/><circle cx="947.6" cy="504.5" r="3.93"/><circle cx="947.2" cy="505.8" r="4.53"/><circle cx="946.8" cy="506.9" r="4.38"/><circle cx="946.0" cy="507.6" r="3.86"/><circle cx="945.8" cy="508.8" r="4.41"/><circle cx="945.2" cy="509.9" r="4.33"/><circle cx="944.9" cy="510.9" r="4.51"/><circle cx="944.1" cy="512.5" r="4.32"/><circle cx="943.2" cy="513.7" r="4.46"/><circle cx="942.7" cy="514.5" r="3.91"/><circle cx="942.0" cy="514.9" r="3.94"/><circle cx="941.6" cy="516.4" r="4.40"/><circle cx="940.5" cy="517.6" r="4.59"/><circle cx="940.1" cy="518.5" r="4.33"/><circle cx="939.7" cy="519.5" r="4.56"/><circle cx="938.3" cy="520.8" r="4.40"/><circle cx="938.5" cy="522.0" r="4.38"/><circle cx="937.3" cy="522.9" r="4.06"/><circle cx="936.7" cy="523.6" r="3.82"/><circle cx="935.7" cy="525.2" r="3.91"/><circle cx="935.2" cy="525.9" r="3.92"/><circle cx="934.4" cy="526.9" r="4.58"/><circle cx="934.4" cy="528.1" r="4.29"/><circle cx="933.2" cy="528.7" r="4.58"/><circle cx="933.0" cy="530.1" r="4.12"/><circle cx="931.7" cy="530.4" r="3.94"/><circle cx="931.2" cy="531.6" r="4.01"/><circle cx="930.1" cy="532.4" r="4.04"/><circle cx="929.9" cy="533.8" r="4.13"/><circle cx="929.1" cy="534.4" r="4.42"/><circle cx="928.0" cy="535.6" r="4.41"/><circle cx="928.1" cy="536.5" r="4.50"/><circle cx="927.0" cy="536.8" r="4.15"/><circle cx="926.0" cy="537.7" r="4.37"/><circle cx="925.4" cy="538.9" r="3.99"/><circle cx="924.5" cy="539.7" r="3.85"/><circle cx="924.1" cy="540.5" r="3.89"/><circle cx="923.5" cy="541.5" r="4.59"/><circle cx="922.5" cy="542.6" r="4.03"/><circle cx="922.1" cy="544.1" r="3.91"/><circle cx="921.0" cy="544.2" r="4.22"/><circle cx="920.0" cy="545.3" r="3.89"/><circle cx="919.0" cy="546.0" r="4.55"/><circle cx="918.5" cy="547.1" r="4.66"/><circle cx="917.3" cy="548.3" r="4.29"/><circle cx="917.2" cy="549.4" r="4.68"/><circle cx="916.0" cy="549.9" r="4.04"/><circle cx="915.3" cy="551.4" r="4.49"/><circle cx="914.2" cy="552.3" r="4.10"/><circle cx="914.0" cy="553.3" r="4.69"/><circle cx="913.0" cy="553.7" r="4.54"/><circle cx="911.9" cy="554.4" r="4.27"/><circle cx="911.0" cy="555.6" r="3.83"/><circle cx="910.8" cy="556.7" r="4.42"/><circle cx="910.1" cy="558.0" r="4.64"/><circle cx="908.6" cy="558.1" r="4.13"/><circle cx="907.9" cy="559.3" r="3.98"/><circle cx="907.7" cy="560.1" r="4.61"/><circle cx="906.8" cy="560.7" r="4.39"/><circle cx="906.0" cy="562.3" r="4.39"/><circle cx="904.7" cy="562.9" r="4.48"/><circle cx="903.9" cy="564.3" r="4.51"/><circle cx="903.2" cy="564.9" r="4.67"/><circle cx="902.7" cy="565.6" r="4.65"/><circle cx="901.4" cy="567.3" r="3.91"/><circle cx="900.6" cy="568.3" r="4.53"/><circle cx="900.2" cy="568.9" r="4.68"/><circle cx="898.9" cy="569.7" r="4.29"/><circle cx="898.5" cy="571.2" r="4.67"/><circle cx="897.5" cy="572.5" r="4.64"/><circle cx="896.5" cy="573.0" r="4.54"/><circle cx="895.8" cy="574.2" r="4.06"/><circle cx="895.2" cy="574.7" r="4.03"/><circle cx="894.3" cy="576.0" r="4.62"/><circle cx="894.0" cy="576.9" r="4.33"/><circle cx="892.9" cy="577.8" r="4.63"/><circle cx="891.7" cy="578.5" r="4.27"/><circle cx="891.0" cy="579.6" r="3.96"/><circle cx="890.6" cy="580.3" r="3.96"/><circle cx="889.6" cy="581.1" r="4.30"/><circle cx="889.1" cy="581.8" r="4.30"/><circle cx="887.5" cy="583.3" r="4.30"/><circle cx="887.1" cy="584.3" r="4.50"/><circle cx="886.8" cy="585.0" r="4.48"/><circle cx="885.7" cy="585.9" r="4.35"/><circle cx="884.9" cy="586.8" r="4.42"/><circle cx="884.6" cy="587.9" r="4.23"/><circle cx="883.8" cy="588.5" r="4.59"/><circle cx="883.0" cy="590.0" r="4.30"/><circle cx="881.5" cy="590.7" r="3.92"/><circle cx="880.8" cy="591.4" r="3.87"/><circle cx="880.4" cy="593.2" r="4.40"/><circle cx="879.5" cy="594.0" r="3.94"/><circle cx="878.8" cy="595.4" r="3.93"/><circle cx="878.1" cy="595.9" r="4.00"/><circle cx="877.3" cy="597.3" r="4.24"/><circle cx="875.9" cy="598.1" r="3.95"/><circle cx="874.9" cy="598.9" r="4.11"/><circle cx="874.0" cy="600.1" r="4.45"/><circle cx="873.3" cy="600.8" r="4.20"/><circle cx="872.9" cy="601.6" r="4.36"/><circle cx="872.3" cy="603.5" r="4.69"/><circle cx="871.1" cy="603.7" r="3.89"/><circle cx="870.3" cy="604.8" r="4.50"/><circle cx="870.0" cy="606.4" r="4.18"/><circle cx="868.6" cy="607.5" r="4.03"/><circle cx="868.3" cy="607.7" r="4.31"/><circle cx="867.5" cy="609.0" r="3.85"/><circle cx="867.0" cy="610.2" r="3.87"/><circle cx="865.4" cy="611.3" r="4.52"/><circle cx="865.4" cy="612.0" r="3.86"/><circle cx="864.4" cy="613.4" r="4.11"/><circle cx="863.2" cy="614.0" r="4.04"/><circle cx="862.5" cy="614.6" r="4.01"/><circle cx="861.9" cy="615.7" r="3.85"/><circle cx="861.6" cy="616.7" r="4.07"/><circle cx="860.3" cy="617.8" r="4.25"/><circle cx="859.6" cy="618.6" r="3.82"/><circle cx="859.1" cy="619.8" r="4.46"/><circle cx="858.7" cy="620.9" r="4.23"/><circle cx="857.5" cy="622.3" r="4.54"/><circle cx="856.7" cy="623.4" r="4.55"/><circle cx="856.5" cy="624.3" r="4.42"/><circle cx="855.5" cy="625.7" r="4.55"/><circle cx="854.5" cy="626.2" r="4.16"/><circle cx="853.6" cy="627.9" r="3.92"/><circle cx="853.0" cy="628.4" r="4.03"/><circle cx="852.9" cy="629.9" r="4.56"/><circle cx="851.7" cy="630.6" r="4.05"/><circle cx="851.1" cy="631.7" r="4.21"/><circle cx="851.2" cy="633.1" r="4.04"/><circle cx="849.8" cy="634.4" r="4.29"/><circle cx="849.2" cy="634.9" r="4.08"/><circle cx="848.6" cy="636.6" r="4.14"/><circle cx="848.0" cy="637.5" r="3.98"/><circle cx="847.0" cy="639.1" r="4.04"/><circle cx="846.4" cy="640.3" r="3.84"/><circle cx="846.4" cy="641.6" r="4.01"/><circle cx="845.9" cy="642.8" r="4.48"/><circle cx="845.3" cy="643.4" r="4.59"/><circle cx="844.7" cy="644.6" r="4.69"/><circle cx="844.3" cy="645.3" r="4.38"/></g>
<g fill="#000"><circle cx="974.9" cy="495.4" r="4.97"/><circle cx="974.2" cy="496.5" r="5.33"/><circle cx="973.8" cy="497.6" r="5.36"/><circle cx="973.2" cy="498.7" r="5.10"/><circle cx="973.0" cy="500.3" r="5.18"/><circle cx="972.1" cy="501.1" r="4.69"/><circle cx="972.1" cy="502.8" r="5.01"/><circle cx="971.0" cy="503.9" r="5.25"/><circle cx="970.3" cy="504.8" r="4.64"/><circle cx="969.8" cy="505.1" r="5.20"/><circle cx="968.9" cy="506.2" r="4.79"/><circle cx="968.2" cy="507.7" r="5.28"/><circle cx="967.3" cy="508.2" r="5.34"/><circle cx="966.6" cy="509.1" r="4.99"/><circle cx="965.9" cy="510.2" r="5.37"/><circle cx="965.6" cy="511.4" r="4.66"/><circle cx="964.3" cy="511.6" r="4.73"/><circle cx="963.5" cy="512.5" r="5.04"/><circle cx="963.5" cy="513.8" r="5.00"/><circle cx="962.4" cy="514.4" r="4.91"/><circle cx="961.2" cy="515.8" r="5.07"/><circle cx="960.3" cy="516.7" r="5.41"/><circle cx="959.6" cy="517.3" r="5.10"/><circle cx="959.6" cy="518.1" r="5.45"/><circle cx="958.8" cy="519.1" r="5.18"/><circle cx="957.2" cy="520.1" r="5.10"/><circle cx="956.8" cy="521.5" r="5.16"/><circle cx="955.8" cy="522.5" r="4.63"/><circle cx="955.1" cy="523.0" r="5.08"/><circle cx="954.4" cy="523.6" r="5.44"/><circle cx="953.3" cy="524.9" r="5.27"/><circle cx="952.6" cy="525.7" r="4.74"/><circle cx="951.9" cy="526.5" r="4.63"/><circle cx="950.5" cy="528.1" r="5.26"/><circle cx="950.1" cy="528.9" r="5.28"/><circle cx="949.5" cy="529.6" r="4.77"/><circle cx="948.9" cy="530.5" r="4.76"/><circle cx="948.0" cy="531.4" r="4.89"/><circle cx="946.6" cy="532.8" r="5.15"/><circle cx="945.6" cy="533.8" r="4.78"/><circle cx="945.6" cy="534.8" r="4.71"/><circle cx="944.0" cy="534.9" r="5.10"/><circle cx="943.5" cy="536.3" r="4.74"/><circle cx="942.7" cy="536.8" r="5.42"/><circle cx="941.7" cy="537.7" r="5.06"/><circle cx="941.4" cy="538.6" r="5.05"/><circle cx="940.6" cy="540.1" r="4.96"/><circle cx="940.0" cy="540.6" r="4.89"/><circle cx="939.0" cy="542.1" r="5.19"/><circle cx="937.6" cy="542.3" r="4.99"/><circle cx="936.9" cy="543.8" r="5.03"/><circle cx="936.6" cy="544.4" r="4.63"/><circle cx="935.2" cy="545.4" r="4.59"/><circle cx="934.6" cy="545.9" r="5.11"/><circle cx="934.3" cy="547.1" r="5.07"/><circle cx="932.6" cy="548.3" r="5.51"/><circle cx="932.2" cy="548.7" r="5.49"/><circle cx="931.7" cy="549.1" r="5.20"/><circle cx="930.6" cy="550.1" r="5.32"/><circle cx="929.9" cy="550.8" r="5.42"/><circle cx="928.9" cy="552.0" r="5.43"/><circle cx="927.8" cy="552.9" r="5.40"/><circle cx="927.8" cy="553.4" r="5.19"/><circle cx="927.1" cy="554.6" r="5.62"/><circle cx="925.8" cy="555.4" r="5.70"/><circle cx="925.7" cy="556.0" r="5.49"/><circle cx="924.6" cy="557.1" r="5.03"/><circle cx="923.6" cy="557.9" r="5.16"/><circle cx="923.1" cy="558.7" r="5.45"/><circle cx="921.9" cy="560.6" r="5.75"/><circle cx="921.7" cy="561.1" r="5.07"/><circle cx="921.0" cy="562.1" r="5.96"/><circle cx="919.7" cy="562.4" r="5.19"/><circle cx="918.7" cy="563.2" r="5.81"/><circle cx="917.8" cy="564.8" r="5.23"/><circle cx="917.2" cy="565.5" r="6.02"/><circle cx="916.4" cy="566.1" r="5.58"/><circle cx="915.2" cy="566.9" r="5.75"/><circle cx="914.2" cy="568.1" r="5.66"/><circle cx="913.1" cy="568.7" r="6.06"/><circle cx="912.2" cy="569.8" r="5.94"/><circle cx="911.6" cy="570.8" r="6.00"/><circle cx="910.3" cy="571.9" r="5.31"/><circle cx="909.9" cy="573.3" r="5.99"/><circle cx="908.8" cy="574.4" r="6.10"/><circle cx="907.8" cy="574.6" r="6.13"/><circle cx="906.3" cy="575.9" r="5.59"/><circle cx="905.5" cy="576.9" r="5.74"/><circle cx="904.5" cy="577.2" r="5.66"/><circle cx="904.0" cy="578.3" r="5.72"/><circle cx="902.6" cy="579.0" r="5.70"/><circle cx="901.7" cy="579.9" r="5.59"/><circle cx="901.2" cy="580.9" r="5.47"/><circle cx="900.1" cy="581.4" r="5.42"/><circle cx="899.2" cy="582.7" r="5.70"/><circle cx="898.3" cy="583.0" r="6.10"/><circle cx="896.9" cy="583.7" r="5.79"/><circle cx="896.1" cy="585.3" r="5.80"/><circle cx="895.4" cy="585.8" r="5.59"/><circle cx="894.3" cy="586.5" r="5.39"/><circle cx="892.7" cy="587.0" r="5.78"/><circle cx="891.7" cy="588.0" r="6.13"/><circle cx="890.8" cy="589.4" r="5.45"/><circle cx="890.3" cy="589.8" r="6.20"/><circle cx="889.2" cy="590.3" r="6.10"/><circle cx="888.2" cy="591.2" r="5.92"/><circle cx="887.2" cy="591.9" r="5.59"/><circle cx="886.6" cy="593.1" r="5.85"/><circle cx="885.3" cy="593.3" r="5.31"/><circle cx="884.5" cy="594.7" r="5.73"/><circle cx="883.3" cy="595.1" r="6.12"/><circle cx="882.0" cy="596.2" r="5.43"/><circle cx="880.9" cy="597.0" r="5.51"/><circle cx="880.1" cy="597.5" r="5.61"/><circle cx="878.5" cy="597.9" r="6.14"/><circle cx="878.1" cy="598.5" r="6.00"/><circle cx="876.6" cy="599.6" r="5.42"/><circle cx="875.6" cy="600.0" r="6.11"/><circle cx="874.8" cy="601.3" r="5.92"/><circle cx="874.3" cy="601.9" r="6.20"/><circle cx="872.6" cy="602.7" r="5.75"/><circle cx="872.0" cy="603.2" r="5.66"/><circle cx="871.2" cy="604.2" r="6.17"/><circle cx="869.8" cy="604.5" r="6.17"/><circle cx="869.4" cy="605.9" r="6.08"/><circle cx="868.3" cy="606.7" r="5.44"/><circle cx="867.4" cy="607.6" r="5.74"/><circle cx="865.9" cy="608.3" r="5.39"/><circle cx="865.1" cy="609.1" r="5.74"/><circle cx="864.1" cy="609.5" r="5.46"/><circle cx="863.5" cy="610.7" r="5.22"/><circle cx="863.1" cy="610.9" r="5.58"/><circle cx="861.5" cy="612.2" r="5.32"/><circle cx="861.1" cy="613.1" r="5.32"/><circle cx="860.4" cy="614.2" r="5.65"/><circle cx="859.0" cy="614.7" r="5.94"/><circle cx="858.4" cy="615.5" r="5.96"/><circle cx="857.4" cy="617.0" r="5.51"/><circle cx="856.5" cy="618.0" r="5.64"/><circle cx="855.9" cy="618.7" r="5.52"/><circle cx="855.2" cy="619.2" r="5.89"/><circle cx="854.1" cy="620.8" r="5.20"/><circle cx="854.1" cy="621.7" r="5.28"/><circle cx="852.9" cy="622.8" r="5.00"/><circle cx="851.9" cy="624.1" r="5.25"/><circle cx="851.8" cy="625.6" r="5.53"/><circle cx="850.5" cy="627.4" r="5.52"/><circle cx="849.5" cy="628.5" r="5.42"/><circle cx="848.8" cy="629.1" r="5.10"/><circle cx="848.7" cy="630.6" r="5.65"/><circle cx="848.1" cy="631.5" r="5.38"/><circle cx="847.5" cy="633.4" r="5.50"/><circle cx="846.8" cy="633.9" r="4.90"/><circle cx="846.2" cy="635.0" r="5.59"/><circle cx="845.7" cy="635.6" r="5.62"/><circle cx="845.1" cy="636.6" r="5.60"/></g>
<text x="68.50" y="43.80" xml:space="preserve" textLength="101.20" lengthAdjust="spacing">100</text>
<text x="99.60" y="201.20" xml:space="preserve" textLength="71.20" lengthAdjust="spacing">50</text>
<text x="135.40" y="358.25" xml:space="preserve">0</text>
<text x="244.10" y="399.35" xml:space="preserve" textLength="103.40" lengthAdjust="spacing">300</text>
<text x="539.00" y="399.35" xml:space="preserve" textLength="102.40" lengthAdjust="spacing">350</text>
<text x="314.70" y="457.80" font-style="italic" xml:space="preserve">T</text>
<text x="351.90" y="470.10" font-size="44" xml:space="preserve" textLength="62.32" lengthAdjust="spacing">cell</text>
<text x="435.80" y="457.80" xml:space="preserve" textLength="91.53" lengthAdjust="spacing"><tspan font-size="64.00" dy="-1.58">(</tspan><tspan dy="1.58">K</tspan><tspan font-size="64.00" dy="-1.58">)</tspan></text>
<text x="187.60" y="105.30" xml:space="preserve" textLength="71.61" lengthAdjust="spacing"><tspan font-size="64.00" dy="-1.58">(</tspan><tspan dy="1.58">a</tspan><tspan font-size="64.00" dy="-1.58">)</tspan></text>
<text x="278.90" y="105.30" xml:space="preserve" textLength="229.52" lengthAdjust="spacing">warming</text>
<text transform="translate(44.40,325.40) rotate(-90)" font-style="italic" xml:space="preserve">V</text>
<text transform="translate(58.10,285.00) rotate(-90)" font-size="44" xml:space="preserve" textLength="64.12" lengthAdjust="spacing">cell</text>
<text transform="translate(44.40,198.90) rotate(-90)" xml:space="preserve" textLength="140.62" lengthAdjust="spacing"><tspan font-size="64.00" dy="-1.58">(</tspan><tspan dy="1.58">mV</tspan><tspan font-size="64.00" dy="-1.58">)</tspan></text>
<text x="736.00" y="43.80" xml:space="preserve" textLength="102.60" lengthAdjust="spacing">100</text>
<text x="767.60" y="202.15" xml:space="preserve" textLength="69.40" lengthAdjust="spacing">50</text>
<text x="811.45" y="399.60" xml:space="preserve">0</text>
<text x="970.00" y="399.60" xml:space="preserve" textLength="66.00" lengthAdjust="spacing">10</text>
<text x="1125.00" y="399.60" xml:space="preserve" textLength="71.00" lengthAdjust="spacing">20</text>
<text x="1283.00" y="399.60" xml:space="preserve" textLength="65.00" lengthAdjust="spacing">30</text>
<text x="857.10" y="466.60" xml:space="preserve" textLength="235.09" lengthAdjust="spacing">Capacity</text>
<text x="1110.40" y="466.60" xml:space="preserve" textLength="222.93" lengthAdjust="spacing"><tspan font-size="64.00" dy="-1.58">(</tspan><tspan dy="1.58">mAh/g</tspan><tspan font-size="64.00" dy="-1.58">)</tspan></text>
<text x="856.00" y="105.20" xml:space="preserve" textLength="76.62" lengthAdjust="spacing"><tspan font-size="64.00" dy="-1.58">(</tspan><tspan dy="1.58">b</tspan><tspan font-size="64.00" dy="-1.58">)</tspan></text>
<text x="949.90" y="105.20" xml:space="preserve" textLength="250.93" lengthAdjust="spacing">discharge</text>
<text x="1003.60" y="207.10" font-style="italic" xml:space="preserve">T</text>
<text x="1040.30" y="220.00" font-size="44" xml:space="preserve" textLength="33.98" lengthAdjust="spacingAndGlyphs">H</text>
<text x="1145.40" y="207.10" xml:space="preserve" textLength="170.31" lengthAdjust="spacing">322 K</text>
<text transform="translate(735.80,334.00) rotate(-90)" font-style="italic" xml:space="preserve">V</text>
<text transform="translate(749.10,292.90) rotate(-90)" font-size="44" xml:space="preserve" textLength="63.72" lengthAdjust="spacing">cell</text>
<text transform="translate(735.80,206.90) rotate(-90)" xml:space="preserve" textLength="140.42" lengthAdjust="spacing"><tspan font-size="64.00" dy="-1.58">(</tspan><tspan dy="1.58">mV</tspan><tspan font-size="64.00" dy="-1.58">)</tspan></text>
<text x="135.60" y="516.00" xml:space="preserve">0</text>
<text x="79.50" y="673.15" xml:space="preserve" textLength="91.26" lengthAdjust="spacing">-50</text>
<text x="45.00" y="830.75" xml:space="preserve" textLength="125.26" lengthAdjust="spacing">-100</text>
<text x="244.10" y="871.30" xml:space="preserve" textLength="103.40" lengthAdjust="spacing">300</text>
<text x="539.00" y="871.30" xml:space="preserve" textLength="102.40" lengthAdjust="spacing">350</text>
<text x="299.10" y="952.10" font-style="italic" xml:space="preserve">T</text>
<text x="336.30" y="964.30" font-size="44" xml:space="preserve" textLength="63.72" lengthAdjust="spacing">cell</text>
<text x="420.90" y="952.10" xml:space="preserve" textLength="90.13" lengthAdjust="spacing"><tspan font-size="64.00" dy="-1.58">(</tspan><tspan dy="1.58">K</tspan><tspan font-size="64.00" dy="-1.58">)</tspan></text>
<text x="344.10" y="772.20" xml:space="preserve" textLength="72.81" lengthAdjust="spacing"><tspan font-size="64.00" dy="-1.58">(</tspan><tspan dy="1.58">c</tspan><tspan font-size="64.00" dy="-1.58">)</tspan></text>
<text x="434.00" y="772.20" xml:space="preserve" textLength="201.37" lengthAdjust="spacing">cooling</text>
<text transform="translate(52.40,788.35) rotate(-90)" font-style="italic" xml:space="preserve">V</text>
<text transform="translate(66.10,747.70) rotate(-90)" font-size="44" xml:space="preserve" textLength="64.52" lengthAdjust="spacing">cell</text>
<text transform="translate(52.40,663.20) rotate(-90)" xml:space="preserve" textLength="142.23" lengthAdjust="spacing"><tspan font-size="64.00" dy="-1.58">(</tspan><tspan dy="1.58">mV</tspan><tspan font-size="64.00" dy="-1.58">)</tspan></text>
<text x="804.10" y="515.90" xml:space="preserve">0</text>
<text x="746.90" y="673.35" xml:space="preserve" textLength="88.26" lengthAdjust="spacing">-50</text>
<text x="713.40" y="829.85" xml:space="preserve" textLength="121.26" lengthAdjust="spacing">-100</text>
<text x="829.25" y="871.10" xml:space="preserve">0</text>
<text x="965.10" y="871.10" xml:space="preserve" textLength="67.40" lengthAdjust="spacing">10</text>
<text x="1114.00" y="871.10" xml:space="preserve" textLength="71.00" lengthAdjust="spacing">20</text>
<text x="1267.60" y="871.10" xml:space="preserve" textLength="68.40" lengthAdjust="spacing">30</text>
<text x="832.60" y="951.90" xml:space="preserve" textLength="236.29" lengthAdjust="spacing">Capacity</text>
<text x="1087.10" y="951.90" xml:space="preserve" textLength="222.93" lengthAdjust="spacing"><tspan font-size="64.00" dy="-1.58">(</tspan><tspan dy="1.58">mAh/g</tspan><tspan font-size="64.00" dy="-1.58">)</tspan></text>
<text x="862.20" y="795.40" xml:space="preserve" textLength="80.22" lengthAdjust="spacing"><tspan font-size="64.00" dy="-1.58">(</tspan><tspan dy="1.58">d</tspan><tspan font-size="64.00" dy="-1.58">)</tspan></text>
<text x="958.90" y="795.40" xml:space="preserve" textLength="249.53" lengthAdjust="spacing">discharge</text>
<text x="988.90" y="693.20" font-style="italic" xml:space="preserve">T</text>
<text x="1024.60" y="706.00" font-size="44" xml:space="preserve" textLength="31.69" lengthAdjust="spacingAndGlyphs">L</text>
<text x="1124.30" y="693.20" xml:space="preserve" textLength="169.11" lengthAdjust="spacing">282 K</text>
<text transform="translate(735.90,791.20) rotate(-90)" font-style="italic" xml:space="preserve">V</text>
<text transform="translate(749.60,748.00) rotate(-90)" font-size="44" xml:space="preserve" textLength="66.52" lengthAdjust="spacing">cell</text>
<text transform="translate(735.90,662.00) rotate(-90)" xml:space="preserve" textLength="140.62" lengthAdjust="spacing"><tspan font-size="64.00" dy="-1.58">(</tspan><tspan dy="1.58">mV</tspan><tspan font-size="64.00" dy="-1.58">)</tspan></text>
<rect x="1093.8" y="182.8" width="31.2" height="4.7"/><rect x="1093.8" y="195.3" width="31.2" height="4.6"/>
<rect x="1073" y="668.9" width="31.8" height="4.8"/><rect x="1073" y="681.9" width="31.8" height="4.4"/>
</svg>
</body></html>
